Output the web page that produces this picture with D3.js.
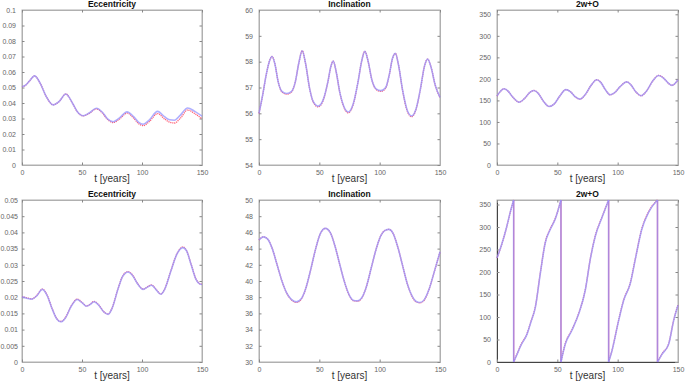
<!DOCTYPE html>
<html>
<head>
<meta charset="utf-8">
<script src="https://cdn.jsdelivr.net/npm/d3@7"></script>
<style>
  body { margin: 0; background: #fff; }
  svg { display: block; font-family: "Liberation Sans", "DejaVu Sans", sans-serif; }
  .tick text { fill: #666; font-size: 7px; }
</style>
</head>
<body>
<div id="chart"></div>
<script>
var svgWidth = 685;
var svgHeight = 382;

// top-left: eccentricity
var eccTopT = [0, 3, 6, 10.5, 15, 20, 26, 31, 36.5, 42, 46, 51, 56, 62, 67, 71, 76, 81, 87.5, 93, 97, 101, 106, 113, 119, 123, 127, 132, 138, 144, 150];
var eccTopBlue = [0.0505, 0.0515, 0.054, 0.0575, 0.053, 0.0445, 0.0388, 0.041, 0.0458, 0.040, 0.0345, 0.0318, 0.0335, 0.0366, 0.034, 0.030, 0.0279, 0.0302, 0.0343, 0.0312, 0.0277, 0.0263, 0.029, 0.0346, 0.031, 0.0292, 0.0289, 0.0322, 0.0368, 0.0346, 0.0315];
var eccTopRed = [0.0505, 0.0515, 0.054, 0.0575, 0.053, 0.0445, 0.0388, 0.041, 0.0458, 0.040, 0.0345, 0.0317, 0.0333, 0.0362, 0.0336, 0.0296, 0.0274, 0.0295, 0.0335, 0.0303, 0.0268, 0.0254, 0.028, 0.0332, 0.0296, 0.0276, 0.0271, 0.0302, 0.0355, 0.0331, 0.0298];

// top-middle: inclination
var incTopT = [0, 3, 6, 8.5, 10.8, 13, 16, 19, 23, 27, 30, 33, 35.8, 38.5, 42, 45, 49, 53, 57, 59.5, 61.5, 64, 67, 70, 74, 78, 82, 85, 87.7, 90.5, 93.5, 97, 101, 105, 108, 110.5, 113, 115.5, 119, 123, 126.5, 130, 134, 137, 139.8, 142.5, 146, 150];
var incTopBlue = [56.0, 56.7, 57.5, 58.0, 58.2, 57.95, 57.2, 56.85, 56.77, 56.85, 57.2, 57.95, 58.42, 57.95, 56.95, 56.45, 56.28, 56.5, 57.2, 57.8, 58.02, 57.6, 56.8, 56.3, 56.05, 56.35, 57.2, 58.0, 58.4, 58.0, 57.3, 56.95, 56.88, 57.0, 57.5, 58.1, 58.32, 57.9, 56.9, 56.1, 55.9, 56.15, 57.0, 57.8, 58.1, 57.8, 57.1, 56.62];
var incTopRed = [56.0, 56.7, 57.5, 58.0, 58.2, 57.95, 57.2, 56.83, 56.74, 56.83, 57.2, 57.95, 58.42, 57.95, 56.95, 56.43, 56.25, 56.48, 57.2, 57.8, 58.02, 57.6, 56.8, 56.28, 56.02, 56.33, 57.2, 58.0, 58.4, 58.0, 57.3, 56.93, 56.85, 56.98, 57.5, 58.1, 58.32, 57.9, 56.88, 56.07, 55.87, 56.13, 57.0, 57.8, 58.1, 57.8, 57.1, 56.6];

// top-right: 2w+O
var angTopT = [0, 2.5, 5.8, 9, 13, 18.3, 23, 27, 30.5, 34, 38.5, 43.2, 47.5, 52, 57, 61, 65, 68.8, 73, 78, 82.6, 86, 90, 93.7, 97.5, 102, 107.6, 111, 115, 119.5, 124, 129, 134, 138, 142, 145, 150];
var angTopBlue = [160, 170, 177, 172, 158, 146, 155, 168, 173, 167, 148, 136, 142, 160, 175, 170, 158, 153, 163, 185, 198, 192, 174, 163, 168, 182, 193, 186, 170, 161, 172, 195, 208, 202, 190, 185, 198];
var angTopRed = [160, 170, 177, 172, 158, 146, 155, 168, 173, 167, 148, 136, 142, 160, 175, 170, 158, 153, 163, 185, 198, 192, 174, 163, 168, 182, 193, 186, 170, 161, 172, 195, 208, 202, 190, 185, 198];

// bottom-left: eccentricity
var eccBotT = [0, 4, 8, 12, 17, 21, 25, 29, 32.5, 36, 41, 46, 50, 53.8, 57, 60, 64, 68, 71.8, 75, 80, 84, 88.4, 92, 96, 101, 104.5, 108, 112, 115.6, 119, 124, 129, 134, 137, 141, 145, 148, 150];
var eccBotBlue = [0.0201, 0.0197, 0.0194, 0.0203, 0.0224, 0.0205, 0.0165, 0.0133, 0.0124, 0.0135, 0.0172, 0.0193, 0.0183, 0.0172, 0.0178, 0.0186, 0.0175, 0.0155, 0.0147, 0.0165, 0.0225, 0.0265, 0.0278, 0.0268, 0.0243, 0.0224, 0.0231, 0.0237, 0.0222, 0.0209, 0.0225, 0.028, 0.0332, 0.0353, 0.0344, 0.030, 0.0255, 0.0241, 0.0239];
var eccBotRed = [0.0202, 0.0198, 0.0195, 0.0204, 0.0225, 0.0206, 0.0166, 0.0134, 0.0125, 0.0136, 0.0173, 0.0194, 0.0184, 0.0173, 0.0179, 0.0187, 0.0176, 0.0156, 0.0148, 0.0166, 0.0226, 0.0266, 0.0279, 0.0269, 0.0244, 0.0225, 0.0232, 0.0238, 0.0223, 0.021, 0.0226, 0.0281, 0.0333, 0.0355, 0.0345, 0.0301, 0.0256, 0.0242, 0.024];

// bottom-middle: inclination
var incBotT = [0, 3.5, 7, 11, 15, 19, 23, 27, 31, 35, 39, 43, 47, 51, 55, 59, 63, 67, 71, 75, 78.5, 81.6, 85, 89, 93, 97, 101, 104.5, 107.7, 111, 115, 119, 123, 127, 130, 133.4, 137, 141, 145, 150];
var incBotBlue = [45.05, 45.45, 45.2, 44.0, 42.0, 40.0, 38.5, 37.7, 37.42, 37.8, 39.2, 41.5, 44.0, 45.9, 46.5, 46.0, 44.3, 42.0, 39.8, 38.2, 37.6, 37.55, 37.9, 39.3, 41.6, 43.9, 45.6, 46.25, 46.37, 45.9, 44.2, 41.9, 39.6, 38.1, 37.5, 37.34, 37.7, 39.0, 41.0, 43.6];
var incBotRed = [45.05, 45.45, 45.2, 44.0, 42.0, 40.0, 38.5, 37.65, 37.36, 37.75, 39.2, 41.5, 44.0, 45.9, 46.5, 46.0, 44.3, 42.0, 39.8, 38.15, 37.55, 37.5, 37.85, 39.3, 41.6, 43.9, 45.6, 46.25, 46.37, 45.9, 44.2, 41.9, 39.6, 38.05, 37.45, 37.3, 37.65, 39.0, 41.0, 43.6];

// bottom-right: 2w+O (wraps at 360)
var angBotT = [0, 4, 8, 11, 13.8, 13.8, 16.6, 20, 24.9, 28, 31.8, 35.9, 40, 44.2, 48.3, 53, 53, 56.6, 62, 67.7, 73.2, 77.3, 81.5, 87, 92.5, 92.5, 95.3, 100.8, 105, 110.5, 114.6, 120, 125.7, 133, 133, 136.7, 142.3, 146.4, 150];
var angBotBlue = [231, 262, 300, 333, 360, 0, 17, 38, 62, 88, 122, 197, 265, 295, 318, 360, 0, 40, 70, 107, 160, 228, 280, 321, 360, 0, 25, 92, 137, 175, 228, 295, 333, 360, 0, 17, 40, 92, 126];
var angBotRed = [231, 262, 300, 333, 360, 0, 18, 39, 63, 89, 123, 198, 266, 296, 319, 360, 0, 41, 71, 108, 161, 229, 281, 322, 360, 0, 26, 93, 138, 176, 229, 296, 334, 360, 0, 18, 41, 93, 127];

var panels = [
  { title: "Eccentricity", t: eccTopT, blue: eccTopBlue, red: eccTopRed, yDomain: [0, 0.1], yTicks: d3.range(0, 0.1001, 0.01), fmt: d => d === 0 ? "0" : d3.format(".2~f")(d),
    left: 22, right: 202, top: 10, bottom: 165, pad: 6 },
  { title: "Inclination", t: incTopT, blue: incTopBlue, red: incTopRed, yDomain: [54, 60], yTicks: d3.range(54, 61, 1), fmt: d3.format("d"),
    left: 259, right: 440, top: 10, bottom: 165, pad: 6 },
  { title: "2w+O", t: angTopT, blue: angTopBlue, red: angTopRed, yDomain: [0, 360], yTicks: d3.range(0, 351, 50), fmt: d3.format("d"),
    left: 497, right: 678, top: 10, bottom: 165, pad: 6 },
  { title: "Eccentricity", t: eccBotT, blue: eccBotBlue, red: eccBotRed, yDomain: [0, 0.05], yTicks: d3.range(0, 0.0501, 0.005), fmt: d => d === 0 ? "0" : d3.format(".3~f")(d),
    left: 22, right: 202, top: 200, bottom: 362, pad: 4 },
  { title: "Inclination", t: incBotT, blue: incBotBlue, red: incBotRed, yDomain: [30, 50], yTicks: d3.range(30, 51, 2), fmt: d3.format("d"),
    left: 259, right: 440, top: 200, bottom: 362, pad: 6 },
  { title: "2w+O", t: angBotT, blue: angBotBlue, red: angBotRed, yDomain: [0, 360], yTicks: d3.range(0, 351, 50), fmt: d3.format("d"),
    left: 497, right: 678, top: 200, bottom: 362, pad: 6, wrap: true }
];

var svg = d3.select("#chart")
  .append("svg")
  .attr("width", svgWidth)
  .attr("height", svgHeight);

// split into pieces where the angle jumps from 360 back to 0
function pieces(t, v, wrap) {
  var pts = t.map((d, i) => [d, v[i]]);
  if (!wrap) return { segs: [pts], jumps: [] };
  var segs = [[]], jumps = [];
  pts.forEach(function(p, i) {
    if (i > 0 && pts[i - 1][1] - p[1] > 180) {
      jumps.push([pts[i - 1], p]);
      segs.push([]);
    }
    segs[segs.length - 1].push(p);
  });
  return { segs: segs, jumps: jumps };
}

panels.forEach(function(p) {
  var w = p.right - p.left;
  var h = p.bottom - p.top;
  var g = svg.append("g").attr("transform", `translate(${p.left},${p.top})`);

  var x = d3.scaleLinear().domain([0, 150]).range([0, w]);
  var y = d3.scaleLinear().domain(p.yDomain).range([h, 0]);

  // frame
  g.append("rect").attr("width", w).attr("height", h)
    .attr("fill", "none").attr("stroke", "#b0b0b0").attr("stroke-width", 1);

  var leftAxis = d3.axisLeft(y).tickValues(p.yTicks).tickFormat(p.fmt).tickSize(-2.5).tickPadding(p.pad);
  var bottomAxis = d3.axisBottom(x).tickValues([0, 50, 100, 150]).tickSize(-2.5).tickPadding(5);

  var ya = g.append("g").call(leftAxis);
  var xa = g.append("g").attr("transform", `translate(0,${h})`).call(bottomAxis);
  g.append("g").attr("transform", `translate(${w},0)`)
    .call(d3.axisRight(y).tickValues(p.yTicks).tickSize(-2.5).tickFormat(""));
  g.append("g")
    .call(d3.axisTop(x).tickValues([0, 50, 100, 150]).tickSize(-2.5).tickFormat(""));

  svg.selectAll(".domain").attr("stroke", "#b0b0b0");
  ya.select(".domain").attr("stroke", "#444");
  xa.select(".domain").attr("stroke", "#444");
  svg.selectAll(".tick line").attr("stroke", "#888");

  var line = d3.line()
    .x(d => x(d[0]))
    .y(d => y(d[1]))
    .curve(d3.curveMonotoneX);

  var lines = g.append("g");

  [["red", p.red, "#ff2a45", 1.3, "1.2,0.8", 0.75], ["blue", p.blue, "#9494ff", 1.6, null, 0.75]].forEach(function(s) {
    var pc = pieces(p.t, s[1], p.wrap);
    pc.segs.forEach(function(seg) {
      lines.append("path")
        .datum(seg)
        .attr("d", line)
        .attr("fill", "none")
        .attr("stroke", s[2])
        .attr("stroke-width", s[3])
        .attr("stroke-dasharray", s[4])
        .attr("opacity", s[5]);
    });
    pc.jumps.forEach(function(j) {
      lines.append("path")
        .datum(j)
        .attr("d", d3.line().x(d => x(d[0])).y(d => y(d[1])))
        .attr("fill", "none")
        .attr("stroke", s[2])
        .attr("stroke-width", s[3])
        .attr("opacity", s[5]);
    });
  });

  g.append("text")
    .attr("x", w / 2)
    .attr("y", -3)
    .attr("text-anchor", "middle")
    .attr("font-size", "8.5px")
    .attr("font-weight", "bold")
    .attr("fill", "#111")
    .text(p.title);

  g.append("text")
    .attr("x", w / 2)
    .attr("y", h + 17)
    .attr("text-anchor", "middle")
    .attr("font-size", "10px")
    .attr("fill", "#333")
    .text("t [years]");
});
</script>
</body>
</html>
